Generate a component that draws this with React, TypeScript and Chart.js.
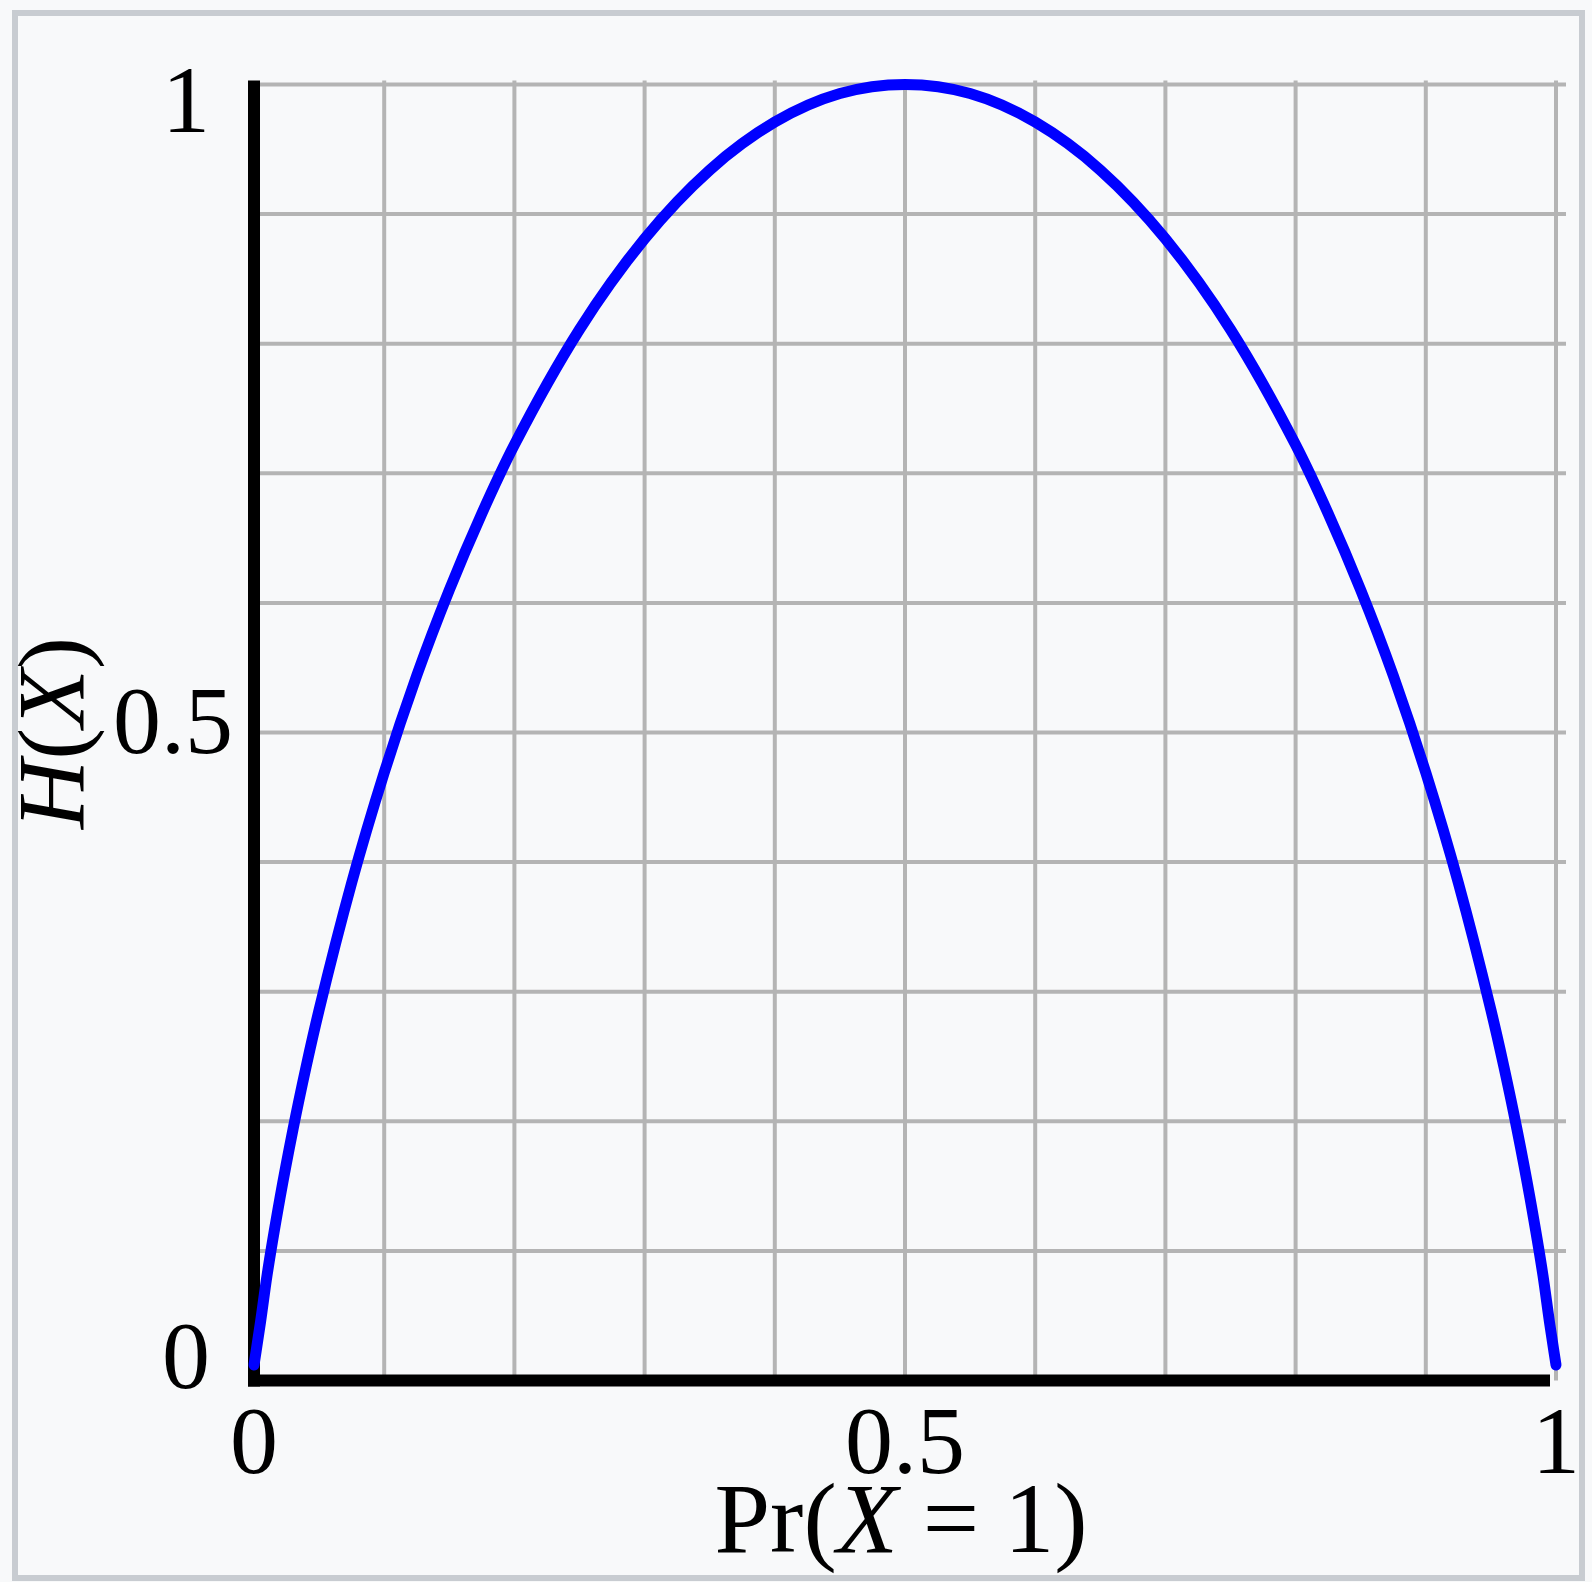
import React, { useEffect, useRef } from "react";
import { Chart, registerables } from "chart.js";

Chart.register(...registerables);

// Probability Pr(X = 1) (x axis) and binary entropy H(X)
const P_VALUES = [0, 0.005, 0.01, 0.02, 0.03, 0.04, 0.05, 0.075, 0.1, 0.125, 0.15, 0.175, 0.2, 0.25, 0.3, 0.35, 0.4, 0.45, 0.5, 0.55, 0.6, 0.65, 0.7, 0.75, 0.8, 0.825, 0.85, 0.875, 0.9, 0.925, 0.95, 0.96, 0.97, 0.98, 0.99, 0.995, 1];
const H_VALUES = [0.012, 0.045, 0.081, 0.141, 0.194, 0.242, 0.286, 0.384, 0.469, 0.544, 0.61, 0.669, 0.722, 0.811, 0.881, 0.934, 0.971, 0.993, 1.0, 0.993, 0.971, 0.934, 0.881, 0.811, 0.722, 0.669, 0.61, 0.544, 0.469, 0.384, 0.286, 0.242, 0.194, 0.141, 0.081, 0.045, 0.012];

const GRID_VALUES = [0, 0.1, 0.2, 0.3, 0.4, 0.5, 0.6, 0.7, 0.8, 0.9, 1];
const X_TICKS = [0, 0.5, 1];
const X_TICK_LABELS = ["0", "0.5", "1"];
const Y_TICKS = [0, 0.5, 1];
const Y_TICK_LABELS = ["0", "0.5", "1"];

const SERIF = '"Liberation Serif", "DejaVu Serif", serif';

function drawRich(ctx: CanvasRenderingContext2D, parts: { t: string; i: boolean }[], size: number, cx: number, cy: number) {
  let total = 0;
  const widths = parts.map((p) => {
    ctx.font = `${p.i ? "italic " : ""}${size}px ${SERIF}`;
    const w = ctx.measureText(p.t).width;
    total += w;
    return w;
  });
  let xx = cx - total / 2;
  ctx.textAlign = "left";
  parts.forEach((p, k) => {
    ctx.font = `${p.i ? "italic " : ""}${size}px ${SERIF}`;
    ctx.fillText(p.t, xx, cy);
    xx += widths[k];
  });
}

const framePlugin = {
  id: "framePlugin",
  beforeDatasetsDraw(chart: any) {
    const { ctx } = chart;
    const x = chart.scales.x;
    const y = chart.scales.y;
    const x0 = x.getPixelForValue(0);
    const x1 = x.getPixelForValue(1);
    const y0 = y.getPixelForValue(0);
    const y1 = y.getPixelForValue(1);
    ctx.save();
    ctx.strokeStyle = "#b4b4b4";
    ctx.lineWidth = 4;
    ctx.lineCap = "butt";
    GRID_VALUES.forEach((v) => {
      if (v === 0) return;
      const px = x.getPixelForValue(v);
      ctx.beginPath();
      ctx.moveTo(px, y1 - 4);
      ctx.lineTo(px, y0);
      ctx.stroke();
      const py = y.getPixelForValue(v);
      ctx.beginPath();
      ctx.moveTo(x0, py);
      ctx.lineTo(x1 + 10, py);
      ctx.stroke();
    });
    ctx.strokeStyle = "#000000";
    ctx.lineWidth = 12;
    ctx.beginPath();
    ctx.moveTo(x0, y1 - 4);
    ctx.lineTo(x0, y0 + 6);
    ctx.stroke();
    ctx.beginPath();
    ctx.moveTo(x0 - 6, y0);
    ctx.lineTo(x1 - 6, y0);
    ctx.stroke();
    ctx.restore();
  },
  afterDraw(chart: any) {
    const { ctx } = chart;
    const x = chart.scales.x;
    const y = chart.scales.y;
    const x0 = x.getPixelForValue(0);
    const y0 = y.getPixelForValue(0);
    ctx.save();
    ctx.fillStyle = "#000000";
    ctx.font = `96px ${SERIF}`;
    // x tick labels
    ctx.textAlign = "center";
    ctx.textBaseline = "alphabetic";
    X_TICKS.forEach((v, k) => {
      ctx.fillText(X_TICK_LABELS[k], x.getPixelForValue(v), y0 + 92);
    });
    // y tick labels
    const yOff = [-18, -5, 22];
    const xRight = [-44, -21, -44];
    ctx.textAlign = "right";
    ctx.textBaseline = "middle";
    Y_TICKS.forEach((v, k) => {
      ctx.fillText(Y_TICK_LABELS[k], x0 + xRight[k], y.getPixelForValue(v) + yOff[k]);
    });
    // x title
    ctx.textBaseline = "alphabetic";
    drawRich(ctx, [
      { t: "Pr(", i: false },
      { t: "X", i: true },
      { t: " = 1)", i: false },
    ], 100, (x.getPixelForValue(0) + x.getPixelForValue(1)) / 2 - 4, 1552);
    // y title
    ctx.save();
    ctx.translate(84, 733);
    ctx.rotate(-Math.PI / 2);
    drawRich(ctx, [
      { t: "H", i: true },
      { t: "(", i: false },
      { t: "X", i: true },
      { t: ")", i: false },
    ], 96, 0, 0);
    ctx.restore();
    ctx.restore();
  },
};

export default function App() {
  const ref = useRef<HTMLCanvasElement | null>(null);
  useEffect(() => {
    if (!ref.current) return;
    const data = P_VALUES.map((p, i) => ({ x: p, y: H_VALUES[i] }));
    const chart = new Chart(ref.current, {
      type: "line",
      data: {
        datasets: [
          {
            data,
            borderColor: "#0000ff",
            borderWidth: 11,
            pointRadius: 0,
            cubicInterpolationMode: "monotone",
            borderCapStyle: "round",
            fill: false,
            clip: false as any,
          },
        ],
      },
      options: {
        responsive: false,
        animation: false,
        devicePixelRatio: 1,
        layout: { padding: { left: 254, right: 36, top: 84.5, bottom: 201.5 } },
        plugins: { legend: { display: false }, tooltip: { enabled: false } },
        scales: {
          x: { type: "linear", min: 0, max: 1, display: false },
          y: { type: "linear", min: 0, max: 1, display: false },
        },
      },
      plugins: [framePlugin],
    });
    return () => chart.destroy();
  }, []);

  return (
    <div style={{ position: "absolute", left: 0, top: 0, width: 1592, height: 1582, background: "#f8f9fa", overflow: "hidden" }}>
      <div
        style={{
          position: "absolute",
          left: 12,
          top: 10,
          width: 1573,
          height: 1571,
          boxSizing: "border-box",
          border: "6px solid #c8ccd1",
          background: "#f8f9fa",
        }}
      />
      <canvas ref={ref} width={1592} height={1582} style={{ position: "absolute", left: 0, top: 0 }} />
    </div>
  );
}
